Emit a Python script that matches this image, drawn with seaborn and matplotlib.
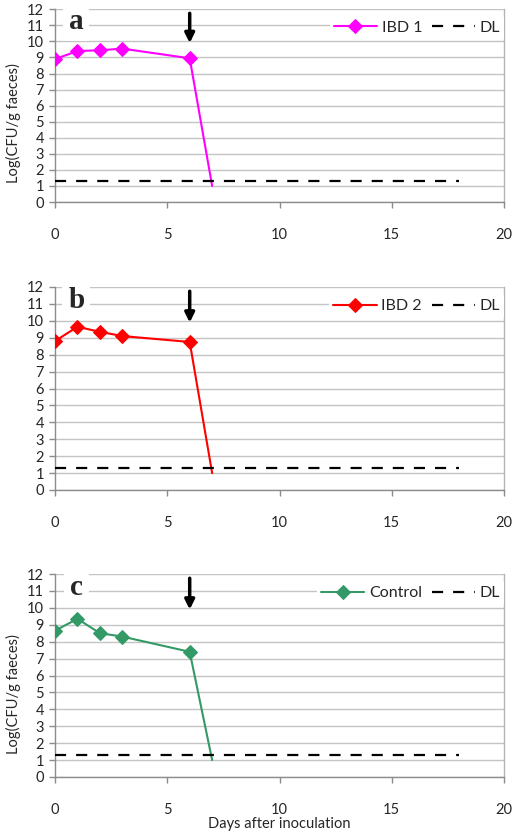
"""
Faecal shedding of the inoculated strain in three mouse groups (panels a-c).
"""
import matplotlib
matplotlib.use("Agg")
import matplotlib.pyplot as plt
import numpy as np
import pandas as pd
import seaborn as sns

# Sampling days after inoculation
DAYS = [0, 1, 2, 3, 6, 7]

# Log(CFU/g faeces) per group
IBD1_LOG_CFU = [8.9, 9.4, 9.45, 9.55, 8.95, 1.0]
IBD2_LOG_CFU = [8.8, 9.65, 9.35, 9.1, 8.75, 1.0]
CONTROL_LOG_CFU = [8.65, 9.35, 8.5, 8.3, 7.4, 1.0]

GROUPS = ["IBD 1", "IBD 2", "Control"]
PANEL_LETTERS = ["a", "b", "c"]
GROUP_COLORS = ["#FF00FF", "#FF0000", "#339966"]

# Detection limit line
DL_DAYS = [0, 18]
DL_LEVEL = 1.3

# Day when the arrow marks the event
ARROW_DAY = 6

X_TICKS = [0, 5, 10, 15, 20]
Y_TICKS = list(range(0, 13))

df = pd.DataFrame({
    "day": DAYS * 3,
    "log_cfu": IBD1_LOG_CFU + IBD2_LOG_CFU + CONTROL_LOG_CFU,
    "group": np.repeat(GROUPS, len(DAYS)),
})
dl_df = pd.DataFrame({"day": DL_DAYS, "log_cfu": [DL_LEVEL] * len(DL_DAYS)})

sns.set_style("white")
plt.rcParams["font.family"] = ["Lato", "DejaVu Sans"]

fig = plt.figure(figsize=(5.17, 8.35), dpi=100)
W, H = 517, 835
# axes boxes in pixels: (top, bottom)
boxes = [(9.3, 202), (287, 490), (574, 777)]
left_px, right_px = 55, 504

axes = []
for top, bottom in boxes:
    ax = fig.add_axes([left_px / W, 1 - bottom / H, (right_px - left_px) / W, (bottom - top) / H])
    axes.append(ax)

for i, ax in enumerate(axes):
    group = GROUPS[i]
    color = GROUP_COLORS[i]
    sub = df[df["group"] == group]

    # the last sample (below detection) has no marker
    sns.lineplot(
        data=sub, x="day", y="log_cfu", color=color, marker="D",
        markersize=7, markeredgecolor=color, linewidth=1.5,
        markevery=list(range(len(DAYS) - 1)),
        label=group, ax=ax, zorder=3,
    )
    sns.lineplot(
        data=dl_df, x="day", y="log_cfu", color="black",
        linestyle=(0, (5, 4.5)), linewidth=1.6, label="DL", ax=ax, zorder=3,
    )

    ax.set_xlim(0, 20)
    ax.set_ylim(0, 12)
    ax.set_xticks(X_TICKS)
    ax.set_yticks(Y_TICKS)
    ax.grid(True, axis="y", color="#C4C4C4", linewidth=1.0)
    ax.grid(False, axis="x")
    ax.set_axisbelow(True)

    for side in ["left", "bottom"]:
        ax.spines[side].set_color("#8C8C8C")
        ax.spines[side].set_linewidth(1.0)
    ax.spines["right"].set_color("#B4B4B4")
    ax.spines["right"].set_linewidth(1.0)
    ax.spines["top"].set_visible(False)

    ax.tick_params(axis="x", direction="out", length=4, width=1, color="#8C8C8C",
                   pad=15, labelsize=10.5, bottom=True)
    ax.tick_params(axis="y", direction="out", length=4, width=1, color="#8C8C8C",
                   pad=4, labelsize=10.5, left=True)

    ax.set_xlabel("")
    if i == 1:
        ax.set_ylabel("")
    else:
        ax.set_ylabel("Log(CFU/g faeces)", fontsize=10.5)
        ax.yaxis.set_label_coords(-0.075, 0.41)

    # panel letter
    ax.text(0.95, 10.75, PANEL_LETTERS[i], fontfamily="Liberation Serif",
            fontweight="bold", fontsize=21, ha="center", va="baseline",
            bbox=dict(boxstyle="square,pad=0.2", facecolor="white", edgecolor="none"),
            zorder=4)

    # arrow at day 6
    ax.annotate("", xy=(ARROW_DAY, 9.9), xytext=(ARROW_DAY, 11.75),
                arrowprops=dict(arrowstyle="-|>", color="black", lw=2.5,
                                mutation_scale=14, shrinkA=0, shrinkB=0),
                zorder=5)

    ax.legend(ncol=2, loc="center right", bbox_to_anchor=(1.0, 0.905),
              frameon=True, facecolor="white", edgecolor="none", framealpha=1,
              fontsize=11.5, handlelength=2.7, columnspacing=0.6,
              handletextpad=0.3, borderpad=0.25, borderaxespad=0.0, fancybox=False)

axes[-1].set_xlabel("Days after inoculation", fontsize=10.5, labelpad=0)

fig.savefig("out.png", dpi=100)
plt.close(fig)
